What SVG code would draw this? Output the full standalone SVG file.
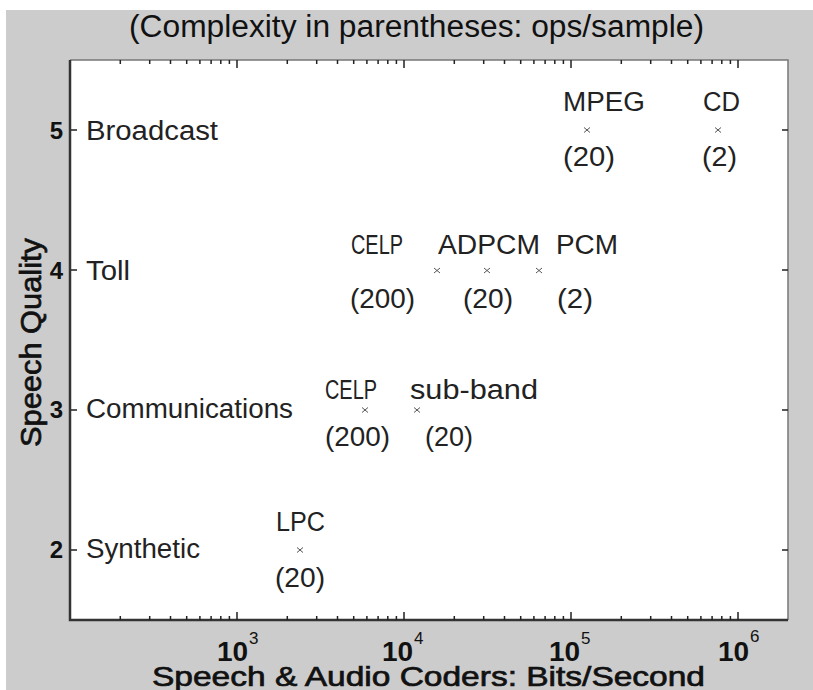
<svg xmlns="http://www.w3.org/2000/svg" width="813" height="690" viewBox="0 0 813 690">
<style>
.lbl{font-family:"Liberation Sans",Arial,sans-serif;font-size:27px;fill:#222}
.num{font-family:"Liberation Sans",Arial,sans-serif;font-size:24px;font-weight:bold;fill:#111}
.ttl{font-family:"Liberation Sans",Arial,sans-serif;font-size:31px;fill:#111}
.axt{font-family:"Liberation Sans",Arial,sans-serif;fill:#111;stroke:#111;stroke-width:0.7}
.dec{font-family:"Liberation Sans",Arial,sans-serif;font-size:28px;font-weight:bold;fill:#111}
.sup{font-family:"Liberation Sans",Arial,sans-serif;font-size:17px;fill:#111}
.mk{stroke:#555;stroke-width:1;fill:none}
.tk{stroke:#222;stroke-width:1.5;fill:none}
</style>
<rect x="0" y="0" width="813" height="690" fill="#ffffff"/>
<rect x="6" y="10" width="807" height="680" fill="#cccccc"/>
<g id="plot-area">
<rect x="70" y="60" width="718" height="560" fill="#ffffff"/>
<path d="M70 60 H788 V620" stroke="#777" stroke-width="1.5" fill="none"/>
<path d="M70 60 V620 H788" stroke="#333" stroke-width="2.5" fill="none"/>
</g>
<g id="ticks">
<path class="tk" d="M120.3 60v4M149.7 60v4M170.5 60v4M186.7 60v4M199.9 60v4M211.1 60v4M220.8 60v4M229.4 60v4M237 60v8M287.3 60v4M316.7 60v4M337.5 60v4M353.7 60v4M366.9 60v4M378.1 60v4M387.8 60v4M396.4 60v4M404 60v8M454.3 60v4M483.7 60v4M504.5 60v4M520.7 60v4M533.9 60v4M545.1 60v4M554.8 60v4M563.4 60v4M571 60v8M621.3 60v4M650.7 60v4M671.5 60v4M687.7 60v4M700.9 60v4M712.1 60v4M721.8 60v4M730.4 60v4M738 60v8"/>
<path class="tk" d="M120.3 620v-4M149.7 620v-4M170.5 620v-4M186.7 620v-4M199.9 620v-4M211.1 620v-4M220.8 620v-4M229.4 620v-4M237 620v-8M287.3 620v-4M316.7 620v-4M337.5 620v-4M353.7 620v-4M366.9 620v-4M378.1 620v-4M387.8 620v-4M396.4 620v-4M404 620v-8M454.3 620v-4M483.7 620v-4M504.5 620v-4M520.7 620v-4M533.9 620v-4M545.1 620v-4M554.8 620v-4M563.4 620v-4M571 620v-8M621.3 620v-4M650.7 620v-4M671.5 620v-4M687.7 620v-4M700.9 620v-4M712.1 620v-4M721.8 620v-4M730.4 620v-4M738 620v-8"/>
<path class="tk" d="M71 130h6M71 270h6M71 410h6M71 550h6M788 130h-6M788 270h-6M788 410h-6M788 550h-6"/>
</g>
<g id="title">
<text class="ttl" x="129" y="37" textLength="575" lengthAdjust="spacingAndGlyphs">(Complexity in parentheses: ops/sample)</text>
</g>
<g id="y-axis-labels">
<text class="num" x="63" y="139" text-anchor="end">5</text>
<text class="num" x="63" y="279" text-anchor="end">4</text>
<text class="num" x="63" y="418" text-anchor="end">3</text>
<text class="num" x="63" y="558" text-anchor="end">2</text>
<text class="axt" transform="translate(41 447) rotate(-90)" x="0" y="0" textLength="209" lengthAdjust="spacingAndGlyphs" style="font-size:30px">Speech Quality</text>
</g>
<g id="x-axis-labels">
<text class="dec" x="217" y="661">10</text><text class="sup" x="249" y="644">3</text>
<text class="dec" x="382" y="661">10</text><text class="sup" x="414" y="644">4</text>
<text class="dec" x="549" y="661">10</text><text class="sup" x="581" y="644">5</text>
<text class="dec" x="718" y="661">10</text><text class="sup" x="750" y="642">6</text>
<text class="axt" x="152" y="686" textLength="553" lengthAdjust="spacingAndGlyphs" style="font-size:28px">Speech &amp; Audio Coders: Bits/Second</text>
</g>
<g id="category-labels">
<text class="lbl" x="86" y="140" textLength="132" lengthAdjust="spacingAndGlyphs">Broadcast</text>
<text class="lbl" x="86" y="280" textLength="44" lengthAdjust="spacingAndGlyphs">Toll</text>
<text class="lbl" x="86" y="418" textLength="207" lengthAdjust="spacingAndGlyphs">Communications</text>
<text class="lbl" x="86" y="558" textLength="114" lengthAdjust="spacingAndGlyphs">Synthetic</text>
</g>
<g id="node-mpeg">
<text class="lbl" x="563" y="111" textLength="82" lengthAdjust="spacingAndGlyphs">MPEG</text>
<path class="mk" d="M584 127.5l6 5M590 127.5l-6 5"/>
<text class="lbl" x="563" y="166" textLength="52" lengthAdjust="spacingAndGlyphs">(20)</text>
</g>
<g id="node-cd">
<text class="lbl" x="703" y="111" textLength="37" lengthAdjust="spacingAndGlyphs">CD</text>
<path class="mk" d="M715 127.5l6 5M721 127.5l-6 5"/>
<text class="lbl" x="702" y="166" textLength="35" lengthAdjust="spacingAndGlyphs">(2)</text>
</g>
<g id="node-celp-toll">
<text class="lbl" x="351" y="254" textLength="52" lengthAdjust="spacingAndGlyphs">CELP</text>
<path class="mk" d="M434 268l6 5M440 268l-6 5"/>
<text class="lbl" x="350" y="308" textLength="65" lengthAdjust="spacingAndGlyphs">(200)</text>
</g>
<g id="node-adpcm">
<text class="lbl" x="438" y="254" textLength="102" lengthAdjust="spacingAndGlyphs">ADPCM</text>
<path class="mk" d="M484 268l6 5M490 268l-6 5"/>
<text class="lbl" x="463" y="308" textLength="50" lengthAdjust="spacingAndGlyphs">(20)</text>
</g>
<g id="node-pcm">
<text class="lbl" x="556" y="254" textLength="62" lengthAdjust="spacingAndGlyphs">PCM</text>
<path class="mk" d="M536 268l6 5M542 268l-6 5"/>
<text class="lbl" x="557" y="308" textLength="36" lengthAdjust="spacingAndGlyphs">(2)</text>
</g>
<g id="node-celp-comm">
<text class="lbl" x="325" y="399" textLength="52" lengthAdjust="spacingAndGlyphs">CELP</text>
<path class="mk" d="M362 407.5l6 5M368 407.5l-6 5"/>
<text class="lbl" x="325" y="446" textLength="65" lengthAdjust="spacingAndGlyphs">(200)</text>
</g>
<g id="node-subband">
<text class="lbl" x="410" y="399" textLength="128" lengthAdjust="spacingAndGlyphs">sub-band</text>
<path class="mk" d="M414 407.5l6 5M420 407.5l-6 5"/>
<text class="lbl" x="425" y="446" textLength="48" lengthAdjust="spacingAndGlyphs">(20)</text>
</g>
<g id="node-lpc">
<text class="lbl" x="276" y="531" textLength="49" lengthAdjust="spacingAndGlyphs">LPC</text>
<path class="mk" d="M297 547.5l6 5M303 547.5l-6 5"/>
<text class="lbl" x="275" y="587" textLength="50" lengthAdjust="spacingAndGlyphs">(20)</text>
</g>
</svg>
